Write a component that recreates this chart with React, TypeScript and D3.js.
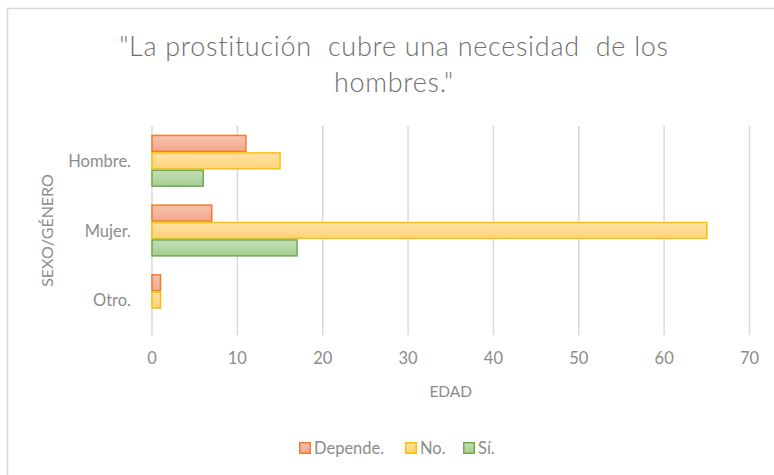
import React from "react";
import * as d3 from "d3";

const categories = ["Hombre.", "Mujer.", "Otro."];
const seriesNames = ["Depende.", "No.", "Sí."];
const depende = [11, 7, 1];
const no = [15, 65, 1];
const si = [6, 17, 0];
const xTicks = [0, 10, 20, 30, 40, 50, 60, 70];
const titleLines = ['"La prostitución  cubre una necesidad  de los', 'hombres."'];

const seriesValues = [depende, no, si];
const fills = [
  ["#f7c2ae", "#f2a88d"],
  ["#ffe2a6", "#ffd27a"],
  ["#c3dfb6", "#a6cd95"],
];
const strokes = ["#ed7d31", "#ffc000", "#70ad47"];

export default function App() {
  const W = 774, H = 475;
  const left = 152, right = 749.5, top = 126, bottom = 335;
  const x = d3.scaleLinear().domain([0, 70]).range([left, right]);
  const y = d3.scaleBand<string>().domain(categories).range([top, bottom]).paddingInner(0.25).paddingOuter(0.125);
  const inner = d3.scaleBand<number>().domain([0, 1, 2]).range([0, y.bandwidth()]);
  const font = "Lato, 'Open Sans', sans-serif";
  const grey = "#8c8c8c";
  const legendX = [299, 405, 463];
  return (
    <svg width={W} height={H} style={{ position: "absolute", left: 0, top: 0, background: "#fff" }} fontFamily={font}>
      <defs>
        {fills.map((f, i) => (
          <linearGradient key={i} id={`g${i}`} x1="0" y1="0" x2="0" y2="1">
            <stop offset="0" stopColor={f[0]} />
            <stop offset="1" stopColor={f[1]} />
          </linearGradient>
        ))}
      </defs>
      <rect x={7.5} y={8.5} width={800} height={500} fill="#fff" stroke="#d9d9d9" strokeWidth={1.5} />
      {titleLines.map((t, i) => (
        <text key={i} x={394} y={56 + i * 36} textAnchor="middle" fontSize={27} fontWeight={300} letterSpacing={0.7} fill="#6f6f6f" style={{ whiteSpace: "pre" }}>{t}</text>
      ))}
      {xTicks.map((t) => (
        <line key={t} x1={x(t)} x2={x(t)} y1={top} y2={bottom} stroke="#d9d9d9" strokeWidth={1.5} />
      ))}
      {categories.map((c, ci) =>
        seriesValues.map((vals, si2) => {
          const v = vals[ci];
          if (v <= 0) return null;
          const y0 = (y(c) as number) + (inner(si2) as number);
          return (
            <rect key={c + si2} x={x(0)} y={y0 + 0.75} width={x(v) - x(0)} height={inner.bandwidth() - 1.5}
              fill={`url(#g${si2})`} stroke={strokes[si2]} strokeWidth={1.5} />
          );
        })
      )}
      {categories.map((c) => (
        <text key={c} x={131} y={(y(c) as number) + y.bandwidth() / 2 + 6} textAnchor="end" fontSize={16.5} fill={grey}>{c}</text>
      ))}
      {xTicks.map((t) => (
        <text key={t} x={x(t)} y={364} textAnchor="middle" fontSize={16.5} fill={grey}>{t}</text>
      ))}
      <text x={(left + right) / 2} y={397} textAnchor="middle" fontSize={15.5} fill={grey}>EDAD</text>
      <text transform={`translate(53, ${(top + bottom) / 2}) rotate(-90)`} textAnchor="middle" fontSize={16} fill={grey}>SEXO/GÉNERO</text>
      {seriesNames.map((s, i) => (
        <g key={s}>
          <rect x={legendX[i] + 0.75} y={442.75} width={10.5} height={10.5} fill={`url(#g${i})`} stroke={strokes[i]} strokeWidth={1.5} />
          <text x={legendX[i] + 15} y={454} fontSize={16.5} fill={grey}>{s}</text>
        </g>
      ))}
    </svg>
  );
}
